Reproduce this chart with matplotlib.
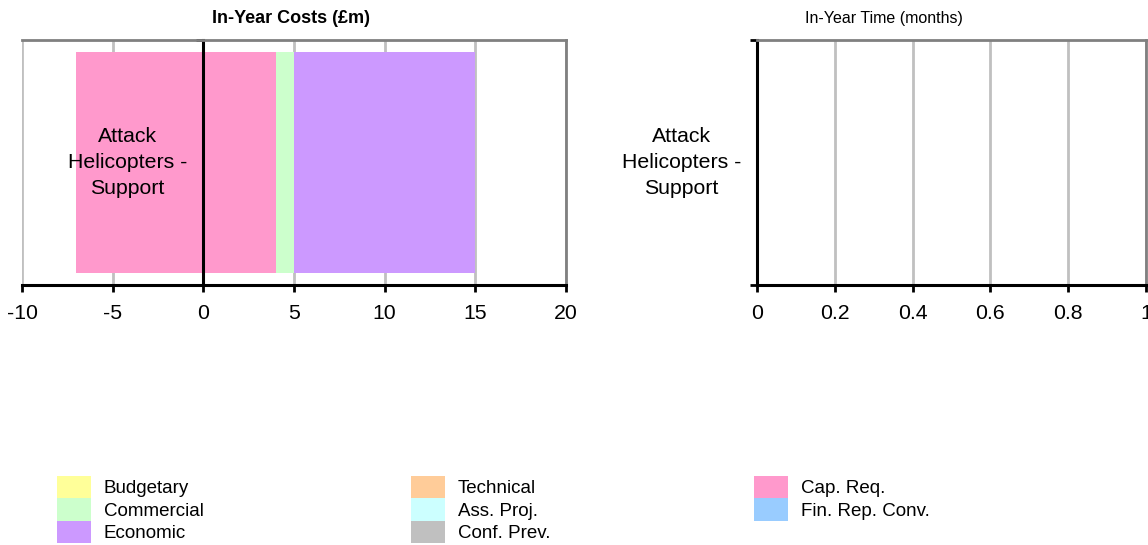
import numpy as np
import matplotlib.pyplot as plt
from matplotlib.patches import Patch

plt.rcParams['font.family'] = ['Liberation Sans', 'DejaVu Sans']

project = 'Attack\nHelicopters -\nSupport'

risk_types = ['Budgetary', 'Commercial', 'Economic', 'Technical', 'Ass. Proj.',
              'Conf. Prev.', 'Cap. Req.', 'Fin. Rep. Conv.']
risk_colors = ['#FFFF99', '#CCFFCC', '#CC99FF', '#FFCC99', '#CCFFFF',
               '#C0C0C0', '#FF99CC', '#99CCFF']

# in-year cost movement per risk type (£m), increases and reductions
cost_up = [0, 1, 10, 0, 0, 0, 4, 0]
cost_down = [0, 0, 0, 0, 0, 0, -7, 0]
# in-year time movement (months)
time_up = [0, 0, 0, 0, 0, 0, 0, 0]
time_down = [0, 0, 0, 0, 0, 0, 0, 0]

# order in which series are stacked on the bar
stack_order = [6, 0, 1, 2, 3, 4, 5, 7]

cost_ticks = [-10, -5, 0, 5, 10, 15, 20]
time_ticks = [0, 0.2, 0.4, 0.6, 0.8, 1]
time_labels = ['0', '0.2', '0.4', '0.6', '0.8', '1']

W, H = 1148, 545
fig = plt.figure(figsize=(W / 100, H / 100), dpi=100)
ax1 = fig.add_axes([22 / W, 1 - 285 / H, 544 / W, 245 / H])
ax2 = fig.add_axes([757 / W, 1 - 285 / H, 389 / W, 245 / H])


def stacked(ax, up, down):
    pos, neg = 0.0, 0.0
    for i in stack_order:
        if up[i] > 0:
            ax.barh(0, up[i], left=pos, height=0.9, color=risk_colors[i], lw=0, zorder=2)
            pos += up[i]
        if down[i] < 0:
            ax.barh(0, down[i], left=neg, height=0.9, color=risk_colors[i], lw=0, zorder=2)
            neg += down[i]


def style(ax, ticks, labels, zero_x):
    ax.set_xlim(ticks[0], ticks[-1])
    ax.set_ylim(-0.5, 0.5)
    ax.set_xticks(ticks)
    ax.set_xticklabels(labels, fontsize=15.3)
    ax.tick_params(axis='x', length=5, width=2, color='black', pad=9)
    # gridlines under the bars, axis text stays on top
    for t in ticks:
        ax.axvline(t, color='#C0C0C0', lw=2, zorder=1)
    for s in ['top', 'right']:
        ax.spines[s].set_color('#808080')
        ax.spines[s].set_linewidth(2)
    ax.spines['bottom'].set_color('black')
    ax.spines['bottom'].set_linewidth(2.2)
    ax.spines['left'].set_position(('data', zero_x))
    ax.spines['left'].set_color('black')
    ax.spines['left'].set_linewidth(2.2)
    ax.set_yticks([])
    ax.set_yticks([-0.5, 0.5], minor=True)
    ax.tick_params(axis='y', which='minor', length=5, width=2, color='black')
    ax.annotate(project, xy=(zero_x, 0), xytext=(-16, 0), textcoords='offset pixels',
                ha='right', va='center', multialignment='center',
                fontsize=15.3, linespacing=1.5, zorder=4)


stacked(ax1, cost_up, cost_down)
style(ax1, cost_ticks, [str(t) for t in cost_ticks], 0)
ax1.set_title('In-Year Costs (£m)', fontsize=13, fontweight='bold', pad=12, x=0.494)

stacked(ax2, time_up, time_down)
style(ax2, time_ticks, time_labels, 0)
ax2.set_title('In-Year Time (months)', fontsize=11.5, pad=12, x=0.326)

# legend in three columns
cols = [[0, 1, 2], [3, 4, 5], [6, 7]]
col_x = [57, 411, 754]
for idx, x in zip(cols, col_x):
    handles = [Patch(facecolor=risk_colors[i], edgecolor='none') for i in idx]
    fig.legend(handles, [risk_types[i] for i in idx], loc='upper left',
               bbox_to_anchor=(x / W, 1 - 476 / H), frameon=False,
               fontsize=13.5, handlelength=1.8, handleheight=1.45,
               labelspacing=0.0, handletextpad=0.7, borderpad=0, borderaxespad=0)

fig.savefig('out.png', dpi=100)
